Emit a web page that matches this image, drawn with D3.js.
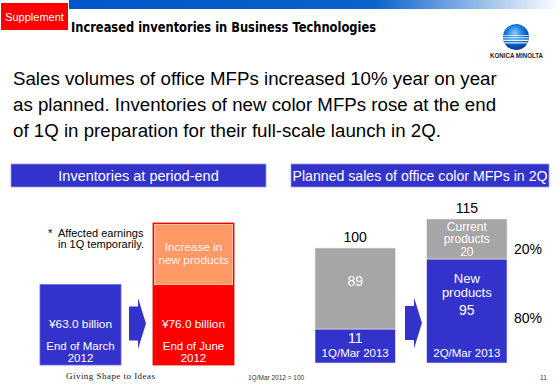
<!DOCTYPE html>
<html>
<head>
<meta charset="utf-8">
<script src="https://cdn.jsdelivr.net/npm/d3@7"></script>
<style>
  body { margin: 0; background: #fff; }
  svg { display: block; }
  text { font-family: "Liberation Sans", Arial, sans-serif; }
</style>
</head>
<body>
<div id="slide"></div>
<script>
// ---- data ----
const headline = [
    'Sales volumes of office MFPs increased 10% year on year',
    'as planned. Inventories of new color MFPs rose at the end',
    'of 1Q in preparation for their full-scale launch in 2Q.'
];

// inventories (billion yen)
const invPeriods = ['End of March 2012', 'End of June 2012'];
const invPeriodLines = [['End of March', '2012'], ['End of June', '2012']];
const invValues = [63.0, 76.0];
const invValueLabels = ['¥63.0 billion', '¥76.0 billion'];
const invIncreaseLabel = ['Increase in', 'new products'];
const invNote = ['Affected earnings', 'in 1Q temporarily.'];

// planned sales of office color MFPs (1Q/Mar 2012 = 100)
const salesPeriods = ['1Q/Mar 2013', '2Q/Mar 2013'];
const salesNew = [11, 95];
const salesCurrent = [89, 20];
const shareCurrent = '20%';
const shareNew = '80%';

const BLUE = '#3333cc', RED = '#ff0000', ORANGE = '#ff9966', GRAY = '#a6a6a6';

const W = 560, H = 388;
const svg = d3.select('#slide').append('svg')
    .attr('width', W)
    .attr('height', H);

const defs = svg.append('defs');

// top fading bar
let fade = defs.append('linearGradient').attr('id', 'fade');
fade.append('stop').attr('offset', '0%').attr('stop-color', '#0057c8');
fade.append('stop').attr('offset', '62%').attr('stop-color', '#0a62cc');
fade.append('stop').attr('offset', '100%').attr('stop-color', '#ffffff');
svg.append('rect').attr('x', 69).attr('y', 0).attr('width', W - 69).attr('height', 9)
    .attr('fill', 'url(#fade)');

// Supplement tag
svg.append('rect').attr('x', 1).attr('y', 3).attr('width', 67).attr('height', 27).attr('fill', RED);
svg.append('text').attr('x', 34.5).attr('y', 17).attr('dy', '0.35em')
    .attr('text-anchor', 'middle').attr('fill', '#fff').style('font-size', '11px')
    .text('Supplement');

// page title
svg.append('text').attr('x', 71).attr('y', 32)
    .style('font-family', '"DejaVu Sans", Verdana, sans-serif')
    .style('font-weight', 'bold').style('font-size', '13.5px')
    .attr('textLength', 305).attr('lengthAdjust', 'spacingAndGlyphs')
    .text('Increased inventories in Business Technologies');

// logo
let globe = defs.append('radialGradient').attr('id', 'globe')
    .attr('cx', '45%').attr('cy', '35%').attr('r', '65%');
globe.append('stop').attr('offset', '0%').attr('stop-color', '#8fd0ff');
globe.append('stop').attr('offset', '45%').attr('stop-color', '#1a7fe0');
globe.append('stop').attr('offset', '100%').attr('stop-color', '#00389a');
defs.append('clipPath').attr('id', 'globeClip')
    .append('circle').attr('cx', 516).attr('cy', 37).attr('r', 13);
let logo = svg.append('g');
logo.append('circle').attr('cx', 516).attr('cy', 37).attr('r', 13).attr('fill', 'url(#globe)');
logo.append('g').attr('clip-path', 'url(#globeClip)')
    .selectAll('rect').data([[35, 0.8], [37.2, 1.1], [39.6, 1.5], [42.3, 1.2]])
    .join('rect')
    .attr('x', 500).attr('width', 32)
    .attr('y', d => d[0]).attr('height', d => d[1])
    .attr('fill', '#fff').attr('opacity', 0.9);
svg.append('text').attr('x', 516.5).attr('y', 57.5).attr('text-anchor', 'middle')
    .style('font-size', '6.5px').style('font-weight', 'bold').attr('fill', '#222')
    .attr('textLength', 53).attr('lengthAdjust', 'spacingAndGlyphs')
    .text('KONICA MINOLTA');

// headline
svg.append('g').selectAll('text').data(headline).join('text')
    .attr('x', 13)
    .attr('y', (d, i) => 85 + i * 26)
    .style('font-size', '18.7px')
    .attr('fill', '#000')
    .text(d => d);

// panel header helper
function header(x0, x1, label, fit) {
    svg.append('rect').attr('x', x0).attr('y', 164).attr('width', x1 - x0).attr('height', 23)
        .attr('fill', BLUE).attr('stroke', '#9a9ae8').attr('stroke-width', 0.8);
    let t = svg.append('text').attr('x', (x0 + x1) / 2).attr('y', 175.5).attr('dy', '0.35em')
        .attr('text-anchor', 'middle').attr('fill', '#fff').style('font-size', '14.5px')
        .text(label);
    if (fit) t.attr('textLength', fit).attr('lengthAdjust', 'spacingAndGlyphs');
}

// arrow helper (drawn in the gap between two bars)
function arrow(cx, cy) {
    let x0 = cx - 8.5;
    let pts = [[x0, cy - 17], [x0 + 9, cy - 17], [x0 + 9, cy - 25.5], [x0 + 17, cy],
               [x0 + 9, cy + 25.5], [x0 + 9, cy + 17], [x0, cy + 17]];
    svg.append('path').attr('d', d3.line()(pts) + 'Z').attr('fill', BLUE);
}

// ---- left panel: inventories ----
header(11, 266, 'Inventories at period-end');

let xInv = d3.scaleBand().domain(invPeriods).range([40, 234]).paddingInner(0.283);
// axis starts at 46 (truncated, as on the slide)
let yInv = d3.scaleLinear().domain([46, 76]).range([365, 223]);

let invG = svg.append('g');
invG.selectAll('rect.bar').data(invPeriods).join('rect')
    .attr('class', 'bar')
    .attr('x', d => xInv(d))
    .attr('width', xInv.bandwidth())
    .attr('y', (d, i) => yInv(invValues[i]))
    .attr('height', (d, i) => yInv(46) - yInv(invValues[i]))
    .attr('fill', (d, i) => i === 0 ? BLUE : RED)
    .attr('stroke', (d, i) => i === 0 ? '#6a6ae0' : '#e00000')
    .attr('stroke-width', 0.8);

// increase segment
invG.append('rect')
    .attr('x', xInv(invPeriods[1]) + 1.5)
    .attr('width', xInv.bandwidth() - 3)
    .attr('y', yInv(invValues[1]) + 1.5)
    .attr('height', yInv(invValues[0]) - yInv(invValues[1]) - 1.5)
    .attr('fill', ORANGE)
    .attr('stroke', '#ffbb99').attr('stroke-width', 1);

invG.selectAll('text.inc').data(invIncreaseLabel).join('text')
    .attr('class', 'inc')
    .attr('x', xInv(invPeriods[1]) + xInv.bandwidth() / 2)
    .attr('y', (d, i) => (yInv(invValues[1]) + yInv(invValues[0])) / 2 - 6.5 + i * 13)
    .attr('dy', '0.35em').attr('text-anchor', 'middle')
    .attr('fill', '#fff3ec').style('font-size', '11.8px')
    .text(d => d);

invPeriods.forEach((p, i) => {
    let cx = xInv(p) + xInv.bandwidth() / 2;
    invG.append('text').attr('x', cx).attr('y', yInv(46) - 41.5).attr('dy', '0.35em')
        .attr('text-anchor', 'middle').attr('fill', '#fff').style('font-size', '11.8px')
        .text(invValueLabels[i]);
    invPeriodLines[i].forEach((line, j) => {
        invG.append('text').attr('x', cx).attr('y', yInv(46) - 19.5 + j * 12).attr('dy', '0.35em')
            .attr('text-anchor', 'middle').attr('fill', '#fff').style('font-size', '11.5px')
            .text(line);
    });
});

arrow((xInv(invPeriods[0]) + xInv.bandwidth() + xInv(invPeriods[1])) / 2 + 0.5, 323.5);

// note
svg.append('text').attr('x', 48).attr('y', 233).attr('dy', '0.35em')
    .style('font-size', '11px').text('*');
svg.append('g').selectAll('text').data(invNote).join('text')
    .attr('x', 58).attr('y', (d, i) => 233 + i * 11.5).attr('dy', '0.35em')
    .style('font-size', '11px').text(d => d);

// ---- right panel: planned sales ----
header(291, 549, 'Planned sales of office color MFPs in 2Q', 255);

let salesRows = salesPeriods.map((p, i) => ({period: p, newp: salesNew[i], current: salesCurrent[i]}));
let series = d3.stack().keys(['newp', 'current'])(salesRows);

let xSales = d3.scaleBand().domain(salesPeriods).range([315, 507]).paddingInner(0.28);
// the slide draws the stacks schematically, so a piecewise scale is used
let stops = Array.from(new Set(series.flatMap(s => s.map(d => d[1])).concat([0]))).sort(d3.ascending);
let ySales = d3.scaleLinear().domain(stops).range([363, 329, 259, 248, 219]);

let salesG = svg.append('g');
salesG.selectAll('g.layer').data(series).join('g')
    .attr('class', 'layer')
    .attr('fill', d => d.key === 'newp' ? BLUE : GRAY)
    .selectAll('rect').data(d => d).join('rect')
    .attr('x', d => xSales(d.data.period))
    .attr('width', xSales.bandwidth())
    .attr('y', d => ySales(d[1]))
    .attr('height', d => ySales(d[0]) - ySales(d[1]))
    .attr('stroke', '#e6e6f0').attr('stroke-width', 0.6);

// totals above bars
salesRows.forEach((r, i) => {
    let cx = xSales(r.period) + xSales.bandwidth() / 2;
    let total = r.newp + r.current;
    salesG.append('text').attr('x', cx).attr('y', ySales(total) - 11).attr('dy', '0.35em')
        .attr('text-anchor', 'middle').style('font-size', '14px').text(total);
    salesG.append('text').attr('x', cx).attr('y', ySales(0) - 10).attr('dy', '0.35em')
        .attr('text-anchor', 'middle').attr('fill', '#fff').style('font-size', '11.5px')
        .text(r.period);
});

// segment labels, 1Q bar
let cx1 = xSales(salesPeriods[0]) + xSales.bandwidth() / 2;
salesG.append('text').attr('x', cx1).attr('y', (ySales(salesNew[0]) + ySales(100)) / 2 - 7)
    .attr('dy', '0.35em').attr('text-anchor', 'middle').attr('fill', '#fff')
    .style('font-size', '14px').text(salesCurrent[0]);
salesG.append('text').attr('x', cx1).attr('y', ySales(salesNew[0]) + 9)
    .attr('dy', '0.35em').attr('text-anchor', 'middle').attr('fill', '#fff')
    .style('font-size', '14px').text(salesNew[0]);

// segment labels, 2Q bar
let cx2 = xSales(salesPeriods[1]) + xSales.bandwidth() / 2;
let tot2 = salesNew[1] + salesCurrent[1];
let midCur = (ySales(tot2) + ySales(salesNew[1])) / 2;
salesG.selectAll('text.cur').data(['Current', 'products', salesCurrent[1]]).join('text')
    .attr('class', 'cur')
    .attr('x', cx2).attr('y', (d, i) => midCur - 12.5 + i * 12.5)
    .attr('dy', '0.35em').attr('text-anchor', 'middle').attr('fill', '#fff')
    .style('font-size', '12px').text(d => d);
let topNew = ySales(salesNew[1]);
salesG.selectAll('text.newp').data(['New', 'products']).join('text')
    .attr('class', 'newp')
    .attr('x', cx2).attr('y', (d, i) => topNew + 19 + i * 14)
    .attr('dy', '0.35em').attr('text-anchor', 'middle').attr('fill', '#fff')
    .style('font-size', '13px').text(d => d);
salesG.append('text').attr('x', cx2).attr('y', topNew + 51)
    .attr('dy', '0.35em').attr('text-anchor', 'middle').attr('fill', '#fff')
    .style('font-size', '14px').text(salesNew[1]);

// shares
salesG.append('text').attr('x', 528).attr('y', midCur + 10).attr('dy', '0.35em')
    .attr('text-anchor', 'middle').style('font-size', '14px').text(shareCurrent);
salesG.append('text').attr('x', 528).attr('y', (topNew + ySales(0)) / 2 + 7).attr('dy', '0.35em')
    .attr('text-anchor', 'middle').style('font-size', '14px').text(shareNew);

arrow((xSales(salesPeriods[0]) + xSales.bandwidth() + xSales(salesPeriods[1])) / 2 + 2.5, 323);

// ---- footer ----
svg.append('text').attr('x', 66).attr('y', 379)
    .style('font-family', '"Liberation Serif", "Times New Roman", serif')
    .style('font-size', '9px').attr('fill', '#222')
    .attr('textLength', 89).attr('lengthAdjust', 'spacing')
    .text('Giving Shape to Ideas');
svg.append('text').attr('x', 248).attr('y', 379.5)
    .style('font-size', '6.5px').attr('fill', '#333')
    .text('1Q/Mar 2012 = 100');
svg.append('text').attr('x', 540).attr('y', 379.5)
    .style('font-size', '6.5px').attr('fill', '#333')
    .text('11');
</script>
</body>
</html>
